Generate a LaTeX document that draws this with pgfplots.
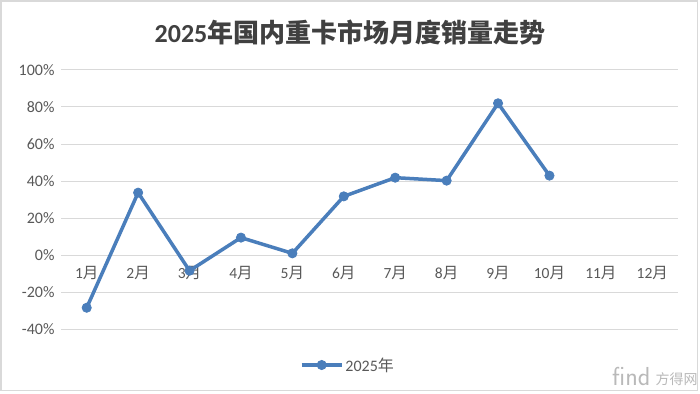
\documentclass[border=0pt]{standalone}
\usepackage{fontspec}
\usepackage{pgfplots}
\pgfplotsset{compat=1.18}
\setmainfont{Carlito}
\newfontfamily\cjk{Noto Sans CJK SC}
\definecolor{serblue}{RGB}{74,126,187}
\definecolor{gridc}{RGB}{217,217,217}
\definecolor{zeroc}{RGB}{191,191,191}
\definecolor{labc}{RGB}{89,89,89}
\definecolor{titc}{RGB}{64,64,64}
\newcommand{\M}[1]{#1{\cjk 月}}
\begin{document}
\begin{tikzpicture}[x=1bp,y=1bp]
\useasboundingbox (0,0) rectangle (700,393);
\fill[white] (0,0) rectangle (700,393);
\draw[gridc, line width=1.5bp] (1,2.5) rectangle (697.5,392);
\node[text=titc, font=\fontsize{26bp}{30bp}\selectfont\bfseries] at (350,360) {2025{\cjk 年国内重卡市场月度销量走势}};
\node[text=gray!55, font=\fontsize{26bp}{28bp}\selectfont\sffamily, anchor=east] at (654,17) {find};
\node[text=gray!55, font=\fontsize{14bp}{16bp}\selectfont\cjk, anchor=west] at (652,14) {方得网};
\begin{axis}[
  at={(61bp,64bp)}, anchor=south west,
  scale only axis, width=617bp, height=259bp,
  xmin=0.5, xmax=12.5, ymin=-40, ymax=100,
  axis line style={draw=none},
  major tick length=0pt,
  xtick={1,...,12},
  xticklabels={\M{1},\M{2},\M{3},\M{4},\M{5},\M{6},\M{7},\M{8},\M{9},\M{10},\M{11},\M{12}},
  x tick label style={anchor=center, yshift=56bp, text=labc, font=\fontsize{15.5bp}{18bp}\selectfont},
  ytick={-40,-20,0,20,40,60,80,100},
  yticklabels={-40\%,-20\%,0\%,20\%,40\%,60\%,80\%,100\%},
  y tick label style={text=labc, font=\fontsize{16bp}{18bp}\selectfont, xshift=-3bp},
  ymajorgrids, major grid style={gridc, line width=1bp},
  extra y ticks={0}, extra y tick labels={},
  extra y tick style={grid style={zeroc, line width=1bp}},
  clip=false,
  legend style={at={(0.465,-0.139)}, anchor=center, draw=none, fill=none,
    font=\fontsize{16bp}{18bp}\selectfont, text=labc},
  legend image code/.code={\draw[#1, mark repeat=2, mark phase=2] plot coordinates {(0bp,0bp) (20bp,0bp) (40bp,0bp)};},
]
\addplot[serblue, line width=3.5bp, mark=*, mark size=4.6bp, mark options={solid, fill=serblue, draw=serblue, line width=0.8bp}]
  coordinates {(1,-28.5)(2,33.7)(3,-8.5)(4,9.4)(5,0.9)(6,31.7)(7,41.8)(8,40.2)(9,82.0)(10,42.9)};
\addlegendentry{2025{\cjk 年}}
\end{axis}
\end{tikzpicture}
\end{document}
